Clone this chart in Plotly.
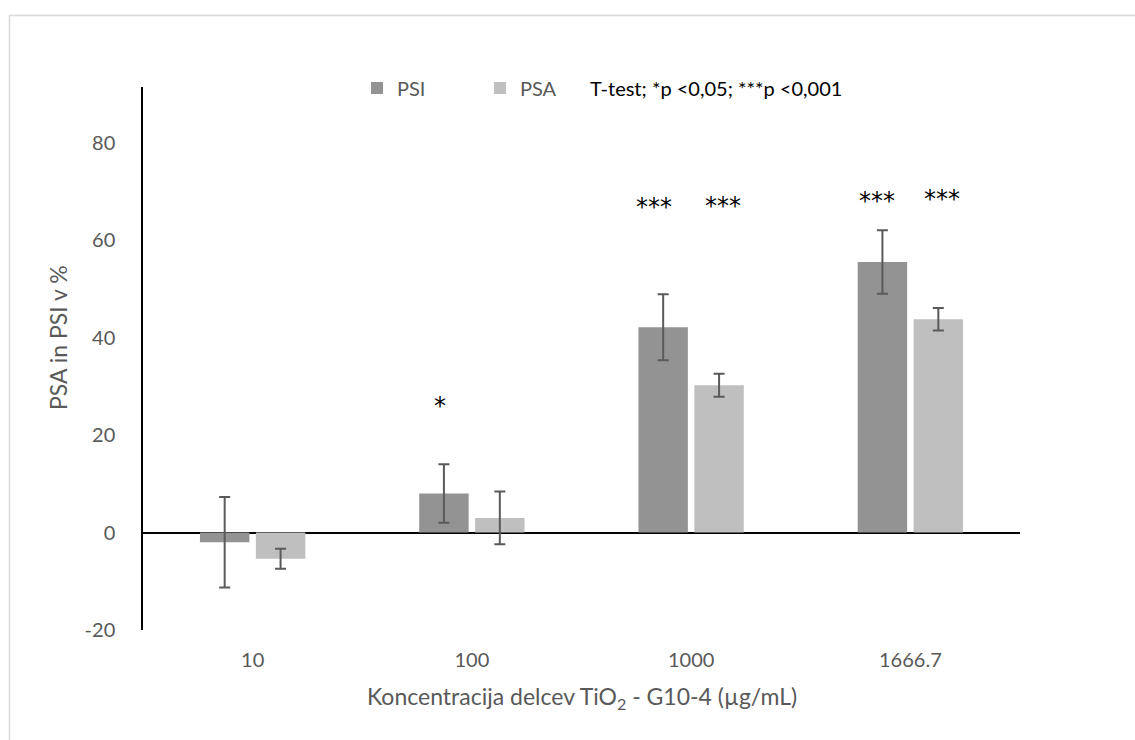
import plotly.graph_objects as go

# ---- data ----
categories = ["10", "100", "1000", "1666.7"]
psi_values = [-2.0, 8.0, 42.1, 55.5]
psi_errors = [9.3, 6.0, 6.75, 6.5]
psa_values = [-5.4, 3.0, 30.2, 43.75]
psa_errors = [2.05, 5.4, 2.35, 2.3]
psi_sig = ["", "*", "***", "***"]
psa_sig = ["", "", "***", "***"]
y_ticks = [-20, 0, 20, 40, 60, 80]
y_tick_labels = [str(v) for v in y_ticks]

FONT = "Lato"
GRAY_TXT = "#595959"

W, H = 1135, 740
L, R, T, B = 143, 115, 87, 110
pw, ph = W - L - R, H - T - B


def px_x(px):
    return (px - L) / pw


def px_y(py):
    return (H - B - py) / ph


fig = go.Figure()
fig.add_trace(go.Bar(
    name="PSI", x=categories, y=psi_values,
    marker=dict(color="#939393", line=dict(width=0)),
    error_y=dict(type="data", array=psi_errors, visible=True,
                 color="#5a5a5a", thickness=2, width=5.5),
))
fig.add_trace(go.Bar(
    name="PSA", x=categories, y=psa_values,
    marker=dict(color="#bfbfbf", line=dict(width=0)),
    error_y=dict(type="data", array=psa_errors, visible=True,
                 color="#5a5a5a", thickness=2, width=5.5),
))

# significance marks (x given as category index, since labels look numeric)
psi_sig_y = [0, 25.9, 66.7, 68.0]
psa_sig_y = [0, 0, 66.9, 68.4]
psi_sig_dx = [0, -31.5, -37, -33]
psa_sig_dx = [0, 0, 32, 32]
for i in range(len(categories)):
    if psi_sig[i]:
        fig.add_annotation(x=i, y=psi_sig_y[i], xref="x", yref="y", text=psi_sig[i],
                           showarrow=False, xshift=psi_sig_dx[i],
                           font=dict(family="DejaVu Sans", size=24, color="black"))
    if psa_sig[i]:
        fig.add_annotation(x=i, y=psa_sig_y[i], xref="x", yref="y", text=psa_sig[i],
                           showarrow=False, xshift=psa_sig_dx[i],
                           font=dict(family="DejaVu Sans", size=24, color="black"))

# legend note
fig.add_annotation(x=px_x(716), y=px_y(88), xref="paper", yref="paper",
                   xanchor="center", yanchor="middle",
                   text="T-test; *p <0,05; ***p <0,001",
                   showarrow=False, font=dict(family=FONT, size=20, color="black"))

# y-axis title
fig.add_annotation(x=px_x(58), y=px_y(338), xref="paper", yref="paper",
                   xanchor="center", yanchor="middle",
                   text="PSA in PSI v %", textangle=-90, showarrow=False,
                   font=dict(family=FONT, size=23, color=GRAY_TXT))

# x-axis title
fig.add_annotation(x=px_x(582), y=px_y(697), xref="paper", yref="paper",
                   xanchor="center", yanchor="middle",
                   text="Koncentracija delcev TiO<sub>2</sub> - G10-4 (µg/mL)", showarrow=False,
                   font=dict(family=FONT, size=23, color=GRAY_TXT))

# outer chart border
fig.add_shape(type="rect", xref="paper", yref="paper",
              x0=px_x(9.5), x1=px_x(1145), y0=px_y(750), y1=px_y(15.5),
              line=dict(color="#d9d9d9", width=1.5), fillcolor="rgba(0,0,0,0)", layer="below")

fig.update_layout(
    width=W, height=H,
    margin=dict(l=L, r=R, t=T, b=B),
    paper_bgcolor="white", plot_bgcolor="white",
    barmode="group", bargap=0.49, bargroupgap=0.116,
    font=dict(family=FONT, size=20, color=GRAY_TXT),
    showlegend=True,
    legend=dict(orientation="h", x=px_x(357), y=px_y(88), xanchor="left", yanchor="middle",
                font=dict(family=FONT, size=20, color=GRAY_TXT),
                entrywidth=78, itemwidth=30, bgcolor="rgba(0,0,0,0)"),
    xaxis=dict(
        type="category", range=[-0.5, 3.5], showline=False, showgrid=False, ticks="",
        tickfont=dict(family=FONT, size=20, color=GRAY_TXT),
        ticklabelstandoff=16,
    ),
    yaxis=dict(
        range=[-20, -20 + ph / 4.875], tickvals=y_ticks, ticktext=y_tick_labels,
        showgrid=False,
        showline=True, linecolor="black", linewidth=1.5, ticks="",
        zeroline=True, zerolinecolor="black", zerolinewidth=2,
        tickfont=dict(family=FONT, size=20, color=GRAY_TXT),
        ticklabelstandoff=22,
    ),
)

fig.write_html("out.html")
